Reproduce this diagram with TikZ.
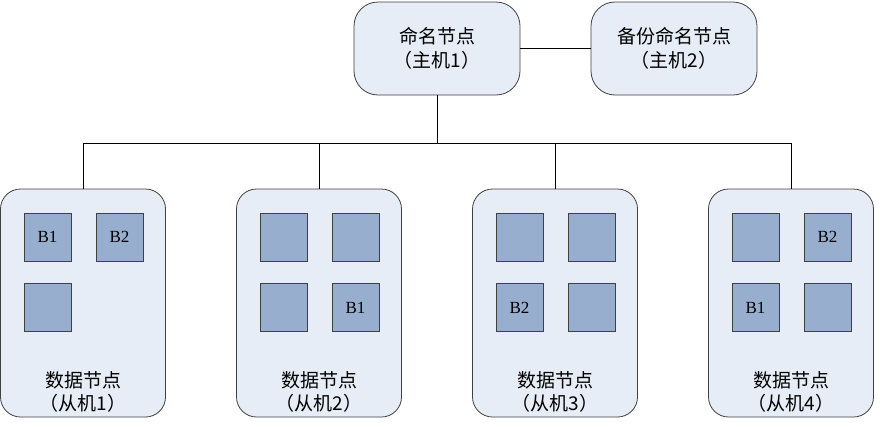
\documentclass[tikz,border=0pt]{standalone}
\usepackage{fontspec}
\newfontfamily\cjk{Noto Sans CJK SC}
\setmainfont{Liberation Serif}
\definecolor{bigfill}{HTML}{E7EDF7}
\definecolor{blkfill}{HTML}{97AECF}
\definecolor{edge}{HTML}{404040}
\begin{document}
\begin{tikzpicture}[x=1pt,y=-1pt,
  master/.style={draw=edge,line width=0.8pt,fill=bigfill,rounded corners=24pt,minimum width=166pt,minimum height=93pt,inner sep=0pt,align=center,font=\cjk\fontsize{19}{24}\selectfont},
  slave/.style={draw=edge,line width=0.8pt,fill=bigfill,rounded corners=20pt,minimum width=165pt,minimum height=228pt,inner sep=0pt},
  blk/.style={draw=edge,line width=0.8pt,fill=blkfill,minimum width=47pt,minimum height=48pt,inner sep=0pt,font=\fontsize{17}{17}\selectfont},
  dlabel/.style={align=center,font=\cjk\fontsize{19}{23}\selectfont,inner sep=0pt},
  link/.style={draw=black,line width=0.8pt}]
\useasboundingbox (0,0) rectangle (880,426);
\node[master] (nn) at (437,48.5) {命名节点\\（主机1）};
\node[master] (bn) at (674,48.5) {备份命名节点\\（主机2）};
\draw[link] (nn.east) -- (bn.west);
\coordinate (bus) at (437,143);
\foreach \i/\cx in {1/83,2/319,3/555,4/791}{
  \node[slave] (d\i) at (\cx,303) {};
  \node[dlabel] (d\i t) at (\cx,392) {数据节点\\（从机\i）};
  \coordinate (t\i) at (\cx,143);
}
\node[blk] (d1a) at (83-35.5,237) {B1};
\node[blk] (d1b) at (83+36.5,237) {B2};
\node[blk] (d1c) at (83-35.5,307.5) {};
\foreach \i/\cx/\la/\lb/\lc/\ld in {2/319////B1,3/555///B2/,4/791//B2/B1/}{
  \node[blk] (d\i a) at (\cx-35.5,237) {\la};
  \node[blk] (d\i b) at (\cx+36.5,237) {\lb};
  \node[blk] (d\i c) at (\cx-35.5,307.5) {\lc};
  \node[blk] (d\i d) at (\cx+36.5,307.5) {\ld};
}
\draw[link] (nn.south) -- (bus);
\draw[link] (t1) -- (t4);
\foreach \i in {1,2,3,4}{\draw[link] (t\i) -- (d\i.north);}
\end{tikzpicture}
\end{document}
